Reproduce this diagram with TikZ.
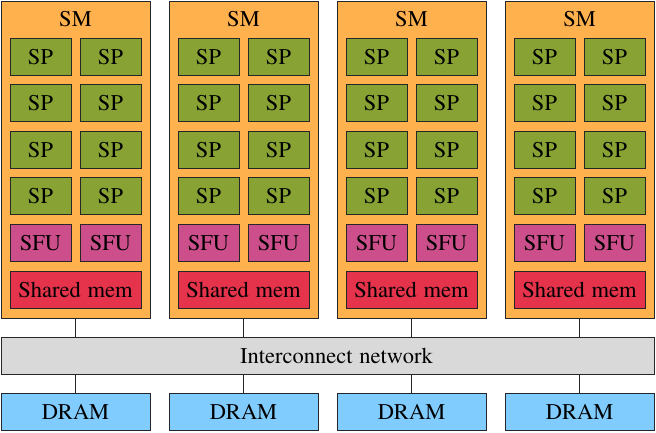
\documentclass[tikz,border=0pt]{standalone}
\usepackage[T1]{fontenc}
\usepackage{mathptmx}
\definecolor{smorange}{HTML}{FFB14E}
\definecolor{spgreen}{HTML}{88A333}
\definecolor{sfupink}{HTML}{CC4E8B}
\definecolor{memred}{HTML}{E5334B}
\definecolor{dramblue}{HTML}{80CCFF}
\definecolor{netgrey}{HTML}{D9D9D9}
\begin{document}
\begin{tikzpicture}[x=1pt,y=-1pt,
  box/.style={draw=black!85,line width=0.9pt,inner sep=0pt,font=\fontsize{22.5}{25}\selectfont},
  smbox/.style={box,fill=smorange,minimum width=149pt,minimum height=317pt},
  spbox/.style={box,fill=spgreen,minimum width=61pt,minimum height=37pt},
  sfubox/.style={box,fill=sfupink,minimum width=61pt,minimum height=37pt},
  membox/.style={box,fill=memred,minimum width=131pt,minimum height=37pt},
  drambox/.style={box,fill=dramblue,minimum width=149pt,minimum height=37pt},
  netbox/.style={box,fill=netgrey,minimum width=653pt,minimum height=37pt},
  link/.style={draw=black!85,line width=0.9pt}]
\useasboundingbox (0,0) rectangle (656,432);
\node[netbox] (net) at (327.5,355.5) {\hspace*{18pt}Interconnect\hspace{0.3em}network};
\foreach \i in {1,...,4}{
  \pgfmathsetmacro{\xo}{1+168*(\i-1)}
  \node[smbox] (sm\i) at (\xo+74.5,159.5) {};
  \node[box,draw=none] (smlabel\i) at (\xo+74.5,19) {SM};
  \foreach \r/\yc in {1/56.5,2/103,3/149.5,4/196}{
    \node[spbox] (sp\i-\r-1) at (\xo+39.5,\yc) {SP};
    \node[spbox] (sp\i-\r-2) at (\xo+109.5,\yc) {SP};
  }
  \node[sfubox] (sfu\i-1) at (\xo+39.5,243) {SFU};
  \node[sfubox] (sfu\i-2) at (\xo+109.5,243) {SFU};
  \node[membox] (mem\i) at (\xo+74.5,290) {Shared\hspace{0.3em}mem};
  \node[drambox] (dram\i) at (\xo+74.5,412) {DRAM};
  \draw[link] (sm\i.south) -- (sm\i.south |- net.north);
  \draw[link] (dram\i.north |- net.south) -- (dram\i.north);
}
\end{tikzpicture}
\end{document}
